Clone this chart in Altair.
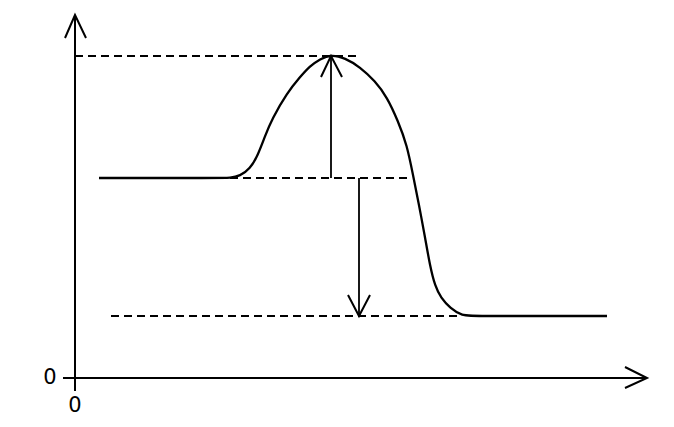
import altair as alt
import pandas as pd

# Energy profile curve (x: reaction progress, y: energy)
curve_x = [2.4, 14.5, 15.5, 16.5, 17.5, 18.3, 19.0, 19.7, 21.2, 22.5, 23.5, 24.5, 25.6, 27.0,
           28.5, 30.0, 31.2, 32.3, 33.2, 33.8, 34.4, 35.0, 35.5, 36.0, 36.6, 37.5, 38.7, 40.0, 53.2]
curve_y = [20.0, 20.0, 20.0, 20.2, 20.9, 22.3, 24.2, 25.9, 28.5, 30.1, 31.2, 31.9, 32.35, 32.0,
           31.1, 29.7, 28.1, 25.7, 23.3, 20.3, 17.3, 14.1, 11.2, 9.2, 8.0, 7.0, 6.2, 6.2, 6.2]

reactant_level = 20.0
peak_level = 32.2
product_level = 6.2
peak_x = 25.6
drop_x = 28.4

# dashed guide lines: (x start, x end, level)
dash_x1 = [0.0, 15.5, 3.6]
dash_x2 = [28.3, 33.7, 38.5]
dash_y = [peak_level, reactant_level, product_level]

# axes lines
axis_x1 = [0.0, -1.2]
axis_x2 = [0.0, 57.2]
axis_y1 = [-1.3, 0.0]
axis_y2 = [36.2, 0.0]

# arrow shafts
shaft_x = [peak_x, drop_x]
shaft_y1 = [reactant_level, reactant_level]
shaft_y2 = [peak_level, product_level]

# arrow heads (open V): id, x, y for wing-tip-wing
head_id = ["ya"] * 3 + ["xa"] * 3 + ["up"] * 3 + ["dn"] * 3
head_ord = [0, 1, 2] * 4
head_x = [-1.0, 0.0, 1.1, 55.0, 57.2, 55.0, 24.6, 25.6, 26.7, 27.3, 28.4, 29.5]
head_y = [34.0, 36.3, 34.0, 1.1, 0.0, -1.0, 30.1, 32.2, 30.1, 8.3, 6.2, 8.3]

# zero labels
lab_text = ["0", "0"]
lab_x = [-2.5, 0.0]
lab_y = [0.0, -2.8]

X = alt.Scale(domain=[-6.7, 58.3], nice=False, zero=False)
Y = alt.Scale(domain=[-3.5, 37.0], nice=False, zero=False)

curve_df = pd.DataFrame({"x": curve_x, "y": curve_y, "i": range(len(curve_x))})
curve = alt.Chart(curve_df).mark_line(color="black", strokeWidth=2.3, interpolate="basis").encode(
    x=alt.X("x:Q", scale=X, axis=None),
    y=alt.Y("y:Q", scale=Y, axis=None),
    order="i:Q",
)

dash_df = pd.DataFrame({"x": dash_x1, "x2": dash_x2, "y": dash_y})
dashes = alt.Chart(dash_df).mark_rule(color="black", strokeWidth=1.9, strokeDash=[8, 5]).encode(
    x=alt.X("x:Q", scale=X, axis=None), x2="x2:Q",
    y=alt.Y("y:Q", scale=Y, axis=None),
)

axes_df = pd.DataFrame({"x": axis_x1, "x2": axis_x2, "y": axis_y1, "y2": axis_y2})
axes = alt.Chart(axes_df).mark_rule(color="black", strokeWidth=2).encode(
    x=alt.X("x:Q", scale=X, axis=None), x2="x2:Q",
    y=alt.Y("y:Q", scale=Y, axis=None), y2="y2:Q",
)

shaft_df = pd.DataFrame({"x": shaft_x, "y": shaft_y1, "y2": shaft_y2})
shafts = alt.Chart(shaft_df).mark_rule(color="black", strokeWidth=1.8).encode(
    x=alt.X("x:Q", scale=X, axis=None),
    y=alt.Y("y:Q", scale=Y, axis=None), y2="y2:Q",
)

head_df = pd.DataFrame({"id": head_id, "o": head_ord, "x": head_x, "y": head_y})
heads = alt.Chart(head_df).mark_line(color="black", strokeWidth=2).encode(
    x=alt.X("x:Q", scale=X, axis=None),
    y=alt.Y("y:Q", scale=Y, axis=None),
    detail="id:N", order="o:Q",
)

lab_df = pd.DataFrame({"t": lab_text, "x": lab_x, "y": lab_y})
labels = alt.Chart(lab_df).mark_text(font="DejaVu Sans", fontSize=21, color="black",
                                     align="center", baseline="middle").encode(
    x=alt.X("x:Q", scale=X, axis=None),
    y=alt.Y("y:Q", scale=Y, axis=None),
    text="t:N",
)

chart = alt.layer(dashes, axes, shafts, heads, curve, labels).properties(
    width=650, height=405, padding=0, background="white"
).configure_view(stroke=None)

chart.save("out.html", embed_options={"renderer": "svg", "actions": False})
